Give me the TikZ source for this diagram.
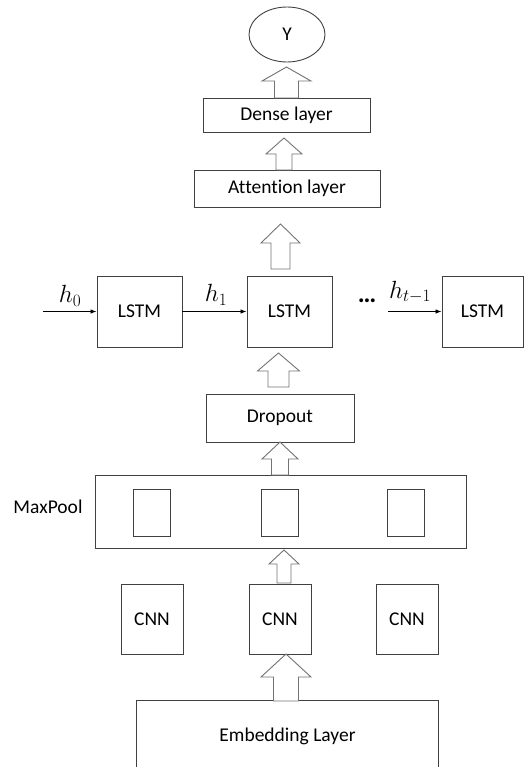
\documentclass[tikz,border=0pt]{standalone}
\usepackage{fontspec}
\setmainfont{Carlito}[Ligatures=NoCommon]
\usetikzlibrary{shapes.geometric,arrows.meta}
\tikzset{
  box/.style={draw=black!75, line width=0.9pt, inner sep=0pt, font=\fontsize{19.5}{21}\selectfont},
  barrow/.style={draw=black!55, line width=0.9pt, fill=white, line join=miter},
  thin arrow/.style={draw=black, line width=0.8pt, -{Latex[length=6pt,width=4.5pt]}},
  mlabel/.style={font=\fontsize{23}{25}\selectfont, inner sep=0pt}
}
% block arrow: xc, tip y, head base y, bottom y, head half width, shaft half width
\newcommand\blockup[6]{%
  \draw[barrow] (#1,#2) -- (#1+#5,#3) -- (#1+#6,#3) -- (#1+#6,#4) -- (#1-#6,#4) -- (#1-#6,#3) -- (#1-#5,#3) -- cycle;}
\begin{document}
\begin{tikzpicture}[x=1pt,y=-1pt]
\useasboundingbox (0,0) rectangle (527,767);
% nodes
\node[box, ellipse, minimum width=76pt, minimum height=55pt] (y) at (287,34.5) {Y};
\node[box, minimum width=167pt, minimum height=34pt] (dense) at (286.5,115) {Dense layer};
\node[box, minimum width=186pt, minimum height=37pt] (attn) at (287,188.5) {Attention layer};
\node[box, minimum width=85pt, minimum height=71pt] (l1) at (139.5,311.5) {LSTM};
\node[box, minimum width=85pt, minimum height=71pt] (l2) at (289.5,311.5) {LSTM};
\node[box, minimum width=81pt, minimum height=71pt] (l3) at (482.5,311.5) {LSTM};
\node[box, minimum width=148pt, minimum height=48pt] (drop) at (280,418) {Dropout};
\node[box, minimum width=371pt, minimum height=73pt] (mp) at (280.5,511.5) {};
\node[box, minimum width=37pt, minimum height=47pt] (p1) at (151.5,512.5) {};
\node[box, minimum width=37pt, minimum height=47pt] (p2) at (280,512.5) {};
\node[box, minimum width=37pt, minimum height=47pt] (p3) at (406,512.5) {};
\node[font=\fontsize{19.5}{21}\selectfont, inner sep=0pt] (mpl) at (48,507) {MaxPool};
\node[box, minimum width=62pt, minimum height=70pt] (c1) at (152,619) {CNN};
\node[box, minimum width=62pt, minimum height=70pt] (c2) at (280,619) {CNN};
\node[box, minimum width=62pt, minimum height=70pt] (c3) at (407,619) {CNN};
\node[box, draw=none, minimum width=301pt, minimum height=70pt] (emb) at (287.5,736) {Embedding Layer};
\draw[black!75, line width=0.9pt] (emb.south west) -- (emb.north west) -- (emb.north east) -- (emb.south east);
% recurrent connections
\coordinate (in0) at (43,311.5);
\draw[thin arrow] (in0) -- (l1.west);
\draw[thin arrow] (l1.east) -- (l2.west);
\coordinate (in3) at (388,311.5);
\draw[thin arrow] (in3) -- (l3.west);
\node[mlabel] (h0) at (70,296) {$h_0$};
\node[mlabel] (h1) at (216,295) {$h_1$};
\node[mlabel] (ht) at (410,292) {$h_{t-1}$};
\node[font=\fontsize{26}{28}\selectfont\bfseries, inner sep=0pt] (dots) at (367,301) {…};
% block arrows
\blockup{286.5}{67}{81}{98}{24.5}{12}
\blockup{284}{138}{154}{170}{18}{8}
\blockup{280.5}{224}{243}{269}{19.5}{9.5}
\blockup{278.5}{353}{371}{387}{21}{10.5}
\blockup{280}{442}{459}{475}{18}{8.5}
\blockup{284}{550}{564}{583}{15}{7}
\blockup{286}{654}{677}{701}{25}{12.5}
\end{tikzpicture}
\end{document}
